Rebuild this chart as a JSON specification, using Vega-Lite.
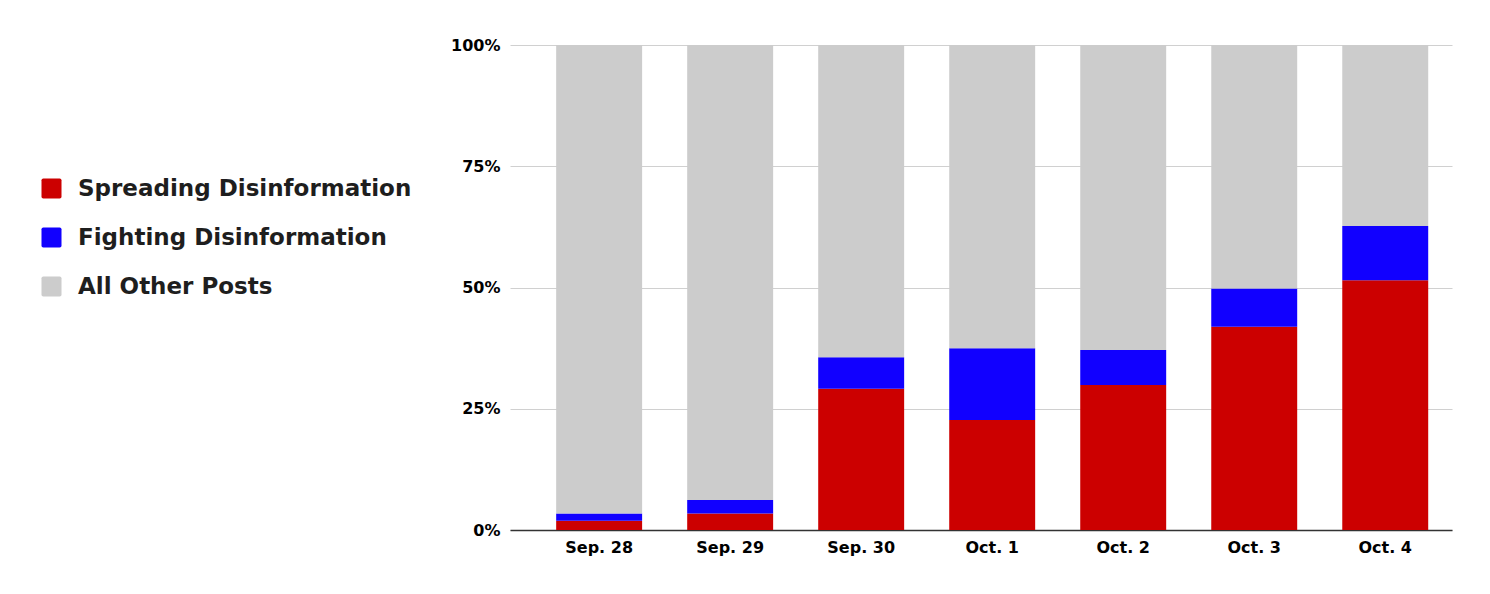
{
  "$schema": "https://vega.github.io/schema/vega-lite/v6.json",
  "width": 942,
  "height": 485,
  "autosize": {"type": "none"},
  "padding": {"left": 510, "top": 45, "right": 38, "bottom": 64},
  "background": "white",
  "data": {
    "values": [
      {"date": "Sep. 28", "category": "Spreading Disinformation", "share": 0.019, "ord": 1},
      {"date": "Sep. 28", "category": "Fighting Disinformation", "share": 0.015, "ord": 2},
      {"date": "Sep. 28", "category": "All Other Posts", "share": 0.966, "ord": 3},
      {"date": "Sep. 29", "category": "Spreading Disinformation", "share": 0.034, "ord": 1},
      {"date": "Sep. 29", "category": "Fighting Disinformation", "share": 0.028, "ord": 2},
      {"date": "Sep. 29", "category": "All Other Posts", "share": 0.938, "ord": 3},
      {"date": "Sep. 30", "category": "Spreading Disinformation", "share": 0.291, "ord": 1},
      {"date": "Sep. 30", "category": "Fighting Disinformation", "share": 0.065, "ord": 2},
      {"date": "Sep. 30", "category": "All Other Posts", "share": 0.644, "ord": 3},
      {"date": "Oct. 1", "category": "Spreading Disinformation", "share": 0.227, "ord": 1},
      {"date": "Oct. 1", "category": "Fighting Disinformation", "share": 0.148, "ord": 2},
      {"date": "Oct. 1", "category": "All Other Posts", "share": 0.625, "ord": 3},
      {"date": "Oct. 2", "category": "Spreading Disinformation", "share": 0.299, "ord": 1},
      {"date": "Oct. 2", "category": "Fighting Disinformation", "share": 0.072, "ord": 2},
      {"date": "Oct. 2", "category": "All Other Posts", "share": 0.629, "ord": 3},
      {"date": "Oct. 3", "category": "Spreading Disinformation", "share": 0.419, "ord": 1},
      {"date": "Oct. 3", "category": "Fighting Disinformation", "share": 0.079, "ord": 2},
      {"date": "Oct. 3", "category": "All Other Posts", "share": 0.502, "ord": 3},
      {"date": "Oct. 4", "category": "Spreading Disinformation", "share": 0.515, "ord": 1},
      {"date": "Oct. 4", "category": "Fighting Disinformation", "share": 0.112, "ord": 2},
      {"date": "Oct. 4", "category": "All Other Posts", "share": 0.373, "ord": 3}
    ]
  },
  "mark": {"type": "bar"},
  "encoding": {
    "x": {
      "field": "date",
      "type": "nominal",
      "sort": ["Sep. 28", "Sep. 29", "Sep. 30", "Oct. 1", "Oct. 2", "Oct. 3", "Oct. 4"],
      "scale": {"paddingInner": 0.344, "paddingOuter": 0.267, "align": 0.66},
      "axis": {
        "title": null,
        "labelAngle": 0,
        "ticks": false,
        "domain": true,
        "domainColor": "#333333",
        "domainWidth": 1.5,
        "labelFont": "DejaVu Sans",
        "labelFontWeight": "bold",
        "labelFontSize": 16,
        "labelColor": "#000000",
        "labelPadding": 9
      }
    },
    "y": {
      "field": "share",
      "type": "quantitative",
      "stack": "zero",
      "scale": {"domain": [0, 1], "nice": false},
      "axis": {
        "title": null,
        "values": [0, 0.25, 0.5, 0.75, 1],
        "format": ".0%",
        "domain": false,
        "ticks": false,
        "grid": true,
        "gridColor": "#d0d0d0",
        "gridWidth": 1,
        "labelFont": "DejaVu Sans",
        "labelFontWeight": "bold",
        "labelFontSize": 16,
        "labelColor": "#000000",
        "labelPadding": 10
      }
    },
    "color": {
      "field": "category",
      "type": "nominal",
      "scale": {
        "domain": ["Spreading Disinformation", "Fighting Disinformation", "All Other Posts"],
        "range": ["#cc0000", "#1100ff", "#cccccc"]
      },
      "legend": {
        "title": null,
        "orient": "none",
        "legendX": -470,
        "legendY": 132,
        "symbolType": "M-0.82,-1H0.82Q1,-1 1,-0.82V0.82Q1,1 0.82,1H-0.82Q-1,1 -1,0.82V-0.82Q-1,-1 -0.82,-1Z",
        "symbolSize": 400,
        "symbolStrokeWidth": 0,
        "symbolOpacity": 1,
        "labelFont": "DejaVu Sans",
        "labelFontWeight": "bold",
        "labelFontSize": 23,
        "labelColor": "#1e1e1e",
        "labelOffset": 15,
        "labelLimit": 500,
        "rowPadding": 25
      }
    },
    "order": {"field": "ord", "type": "quantitative"}
  },
  "config": {
    "view": {"stroke": null},
    "axis": {"gridOpacity": 1}
  }
}
